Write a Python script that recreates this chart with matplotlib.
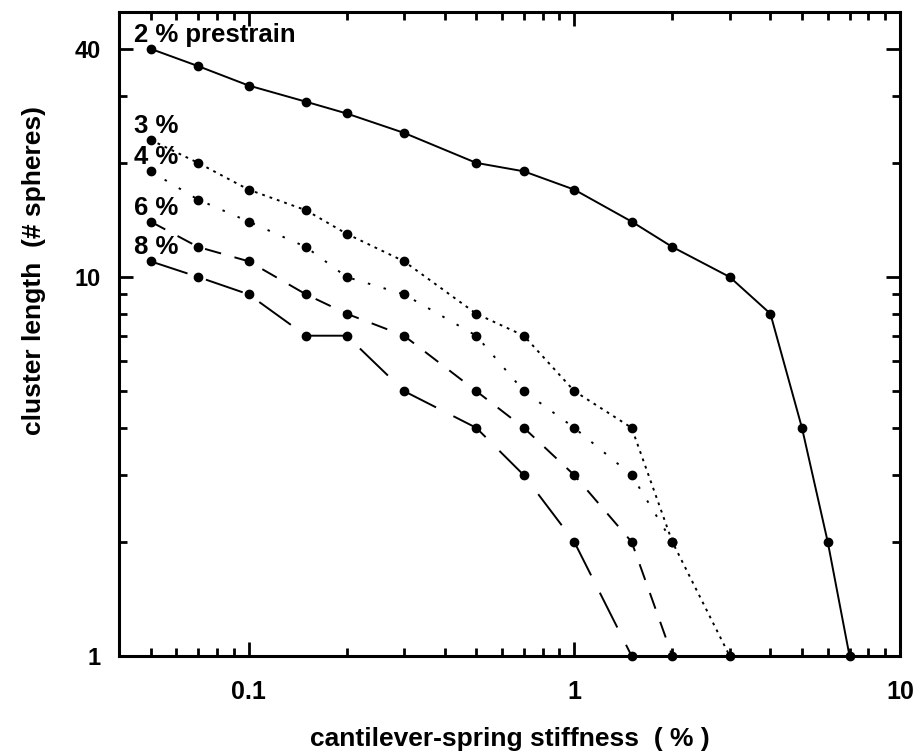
import matplotlib
matplotlib.use("Agg")
import matplotlib.pyplot as plt
from matplotlib.ticker import FixedLocator, NullFormatter

# cantilever-spring stiffness (%)
stiffness = [0.05, 0.07, 0.1, 0.15, 0.2, 0.3, 0.5, 0.7, 1, 1.5, 2, 3, 4, 5, 6, 7]

# cluster length (# spheres) for each prestrain
len_2 = [40, 36, 32, 29, 27, 24, 20, 19, 17, 14, 12, 10, 8, 4, 2, 1]
len_3 = [23, 20, 17, 15, 13, 11, 8, 7, 5, 4, 2, 1]
len_4 = [19, 16, 14, 12, 10, 9, 7, 5, 4, 3, 2]
len_6 = [14, 12, 11, 9, 8, 7, 5, 4, 3, 2, 1]
len_8 = [11, 10, 9, 7, 7, 5, 4, 3, 2, 1]

labels = ["2 % prestrain", "3 %", "4 %", "6 %", "8 %"]

x_ticks = [0.1, 1, 10]
x_ticklabels = ["0.1", "1", "10"]
y_ticks = [1, 10, 40]
y_ticklabels = ["1", "10", "40"]

font = "Liberation Sans"
plt.rcParams["lines.scale_dashes"] = False

fig = plt.figure(figsize=(9.21, 7.53), dpi=100)
ax = fig.add_axes([0.1292, 0.1288, 0.848, 0.8552])
ax.set_xscale("log")
ax.set_yscale("log")

series = [len_2, len_3, len_4, len_6, len_8]
dash_styles = [
    None,
    (0, (2.0, 3.6)),
    (0, (1.8, 10.0)),
    (0, (12.0, 10.0)),
    (0, (28.0, 14.0)),
]

for vals, dash, lab in zip(series, dash_styles, labels):
    xs = stiffness[: len(vals)]
    ls = "-" if dash is None else dash
    ax.plot(xs, vals, color="black", lw=1.4, linestyle=ls,
            marker="o", ms=6, mfc="black", mec="black", clip_on=False)
    ax.annotate(lab, (xs[0], vals[0]), xytext=(-12, 5),
                textcoords="offset points", ha="left", va="baseline",
                fontsize=18.5, fontweight="bold", family=font)

ax.set_xlim(0.04, 10)
ax.set_ylim(1, 50)

ax.xaxis.set_major_locator(FixedLocator(x_ticks))
ax.set_xticklabels(x_ticklabels)
ax.yaxis.set_major_locator(FixedLocator(y_ticks))
ax.set_yticklabels(y_ticklabels)
ax.xaxis.set_minor_locator(FixedLocator(
    [0.05, 0.06, 0.07, 0.08, 0.09, 0.2, 0.3, 0.4, 0.5, 0.6, 0.7, 0.8, 0.9,
     2, 3, 4, 5, 6, 7, 8, 9]))
ax.yaxis.set_minor_locator(FixedLocator([2, 3, 4, 5, 6, 7, 8, 9, 20, 30]))
ax.xaxis.set_minor_formatter(NullFormatter())
ax.yaxis.set_minor_formatter(NullFormatter())

ax.tick_params(which="both", direction="in", top=True, right=True, width=2.0)
ax.tick_params(which="major", length=10)
ax.tick_params(which="minor", length=5.5)
ax.tick_params(axis="x", which="major", pad=17)
ax.tick_params(axis="y", which="major", pad=13)
for t in ax.get_xticklabels():
    t.set_fontsize(18)
    t.set_fontweight("bold")
    t.set_family(font)
for t in ax.get_yticklabels():
    t.set_fontsize(17)
    t.set_fontweight("bold")
    t.set_family(font)

for sp in ax.spines.values():
    sp.set_linewidth(2.2)

ax.set_xlabel("cantilever-spring stiffness  ( % )", fontsize=19,
              fontweight="bold", family=font, va="top")
ax.set_ylabel("cluster length  (# spheres)", fontsize=19,
              fontweight="bold", family=font)
ax.xaxis.set_label_coords(0.5, -0.11)
ax.yaxis.set_label_coords(-0.094, 0.598)

fig.savefig("out.png", dpi=100)
